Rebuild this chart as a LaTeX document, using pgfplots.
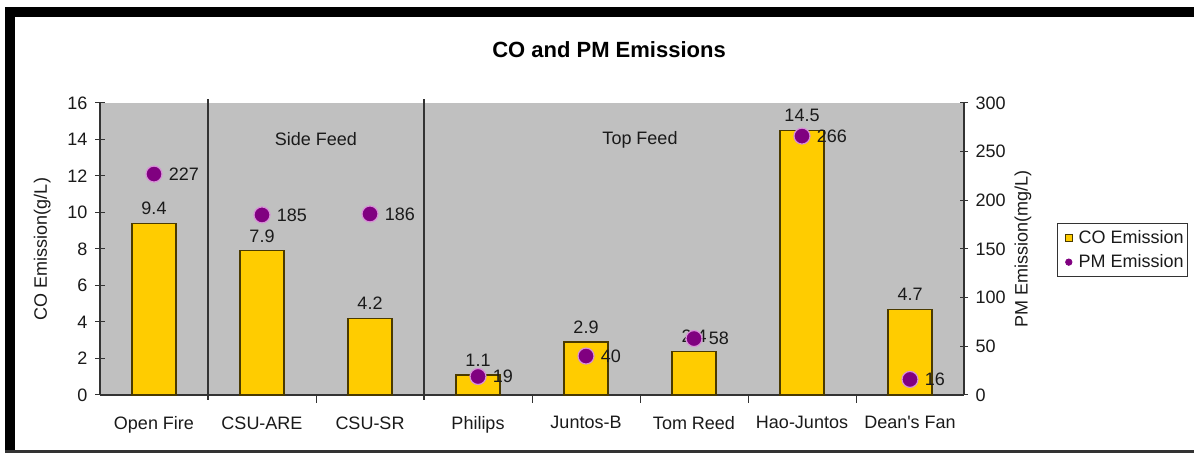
\documentclass[border=0pt]{standalone}
\usepackage{pgfplots}
\pgfplotsset{compat=1.18}
\usepackage{fontspec}
\setmainfont{Liberation Sans}
\definecolor{bargold}{HTML}{FFCC00}
\definecolor{baredge}{HTML}{4A3A00}
\definecolor{pmpurple}{HTML}{800080}
\definecolor{pmhalo}{HTML}{D890D8}
\definecolor{plotgray}{HTML}{C0C0C0}
\definecolor{axisdark}{HTML}{333333}
\definecolor{txt}{HTML}{1A1A1A}
\newcommand{\chartfont}{\fontsize{18bp}{21bp}\selectfont}
\begin{document}
\begin{tikzpicture}[x=1bp,y=1bp]
\fill[white] (0,0) rectangle (1194,454);
\fill[black] (5,437) rectangle (1194,447);
\fill[black] (5,2) rectangle (15,447);
\fill[axisdark] (5,1) rectangle (1194,3.5);
\node[font=\fontsize{22bp}{26bp}\selectfont\bfseries, text=black] at (609,404) {CO and PM Emissions};

\begin{axis}[
  at={(100bp,59bp)}, anchor=south west,
  width=864bp, height=292bp, scale only axis,
  xmin=-0.5, xmax=7.5, ymin=0, ymax=16,
  axis x line*=bottom, axis y line*=left,
  axis line style={axisdark, line width=1.2bp},
  axis background/.style={fill=plotgray},
  clip=false,
  tick style={axisdark, line width=1bp},
  tick align=center,
  major tick length=10bp,
  minor tick length=8bp,
  xtick={0,...,7},
  xticklabels={Open Fire, CSU-ARE, CSU-SR, Philips, Juntos-B, Tom Reed, Hao-Juntos, Dean\textquotesingle s Fan},
  major x tick style={draw=none},
  minor xtick={1.5,3.5,4.5,5.5,6.5},
  ytick={0,2,...,16},
  /pgf/number format/assume math mode=true,
  ticklabel style={font=\chartfont, text=txt},
  xticklabel style={yshift=-8bp},
  yticklabel style={xshift=-4bp},
  ylabel={CO Emission(g/L)},
  ylabel style={at={(axis description cs:-0.067,0.5)}, anchor=center, font=\chartfont, text=txt},
  ybar, bar width=44bp,
  nodes near coords,
  every node near coord/.append style={font=\chartfont, text=txt, yshift=4.5bp,
    /pgf/number format/.cd, fixed, precision=1, fixed zerofill, assume math mode=true},
]
\addplot[fill=bargold, draw=baredge, line width=1.3bp] coordinates {
  (0,9.4) (1,7.9) (2,4.2) (3,1.1) (4,2.9) (5,2.4) (6,14.5) (7,4.7)};
\draw[axisdark, line width=1.5bp] (axis cs:0.5,16.2) -- (axis cs:0.5,-0.3);
\draw[axisdark, line width=1.5bp] (axis cs:2.5,16.2) -- (axis cs:2.5,-0.3);
\node[font=\chartfont, text=txt] at (axis cs:1.5,14) {Side Feed};
\node[font=\chartfont, text=txt] at (axis cs:4.5,14) {Top Feed};
\end{axis}

\begin{axis}[
  at={(100bp,59bp)}, anchor=south west,
  width=864bp, height=292bp, scale only axis,
  xmin=-0.5, xmax=7.5, ymin=0, ymax=300,
  axis x line=none, axis y line*=right,
  axis line style={axisdark, line width=1.2bp},
  clip=false,
  tick style={axisdark, line width=1bp},
  tick align=center,
  major tick length=8bp,
  ytick={0,50,...,300},
  /pgf/number format/assume math mode=true,
  ticklabel style={font=\chartfont, text=txt},
  yticklabel style={xshift=4bp},
  ylabel={PM Emission(mg/L)},
  ylabel style={at={(axis description cs:1.0683,0.5)}, anchor=center, font=\chartfont, text=txt},
  legend style={at={(axis description cs:1.1076,0.497)}, anchor=west,
    draw=axisdark, line width=0.8bp, fill=white, font=\chartfont, text=txt,
    inner xsep=1bp, inner ysep=4bp, row sep=5bp,
    nodes={inner sep=2.5bp}},
  legend cell align=left,
  legend image code/.code={\path (0bp,0bp) (17bp,0bp); \draw[#1] plot coordinates {(10bp,0bp)};},
]
\addlegendimage{only marks, mark=square*, mark size=3.5bp, mark options={fill=bargold, draw=baredge, line width=0.8bp}}
\addlegendentry{CO Emission}
\addlegendimage{only marks, mark=*, mark size=3.2bp, mark options={fill=pmpurple, draw=pmpurple}}
\addlegendentry{PM Emission}
\addplot[forget plot, only marks, mark=*, mark size=8bp,
  mark options={fill=pmpurple, draw=pmhalo, line width=1.2bp},
  nodes near coords,
  every node near coord/.append style={font=\chartfont, text=txt, anchor=west, xshift=11bp,
    /pgf/number format/.cd, fixed, precision=0, assume math mode=true}]
  coordinates {(0,227) (1,185) (2,186) (3,19) (4,40) (5,58) (6,266) (7,16)};
\end{axis}
\end{tikzpicture}
\end{document}
